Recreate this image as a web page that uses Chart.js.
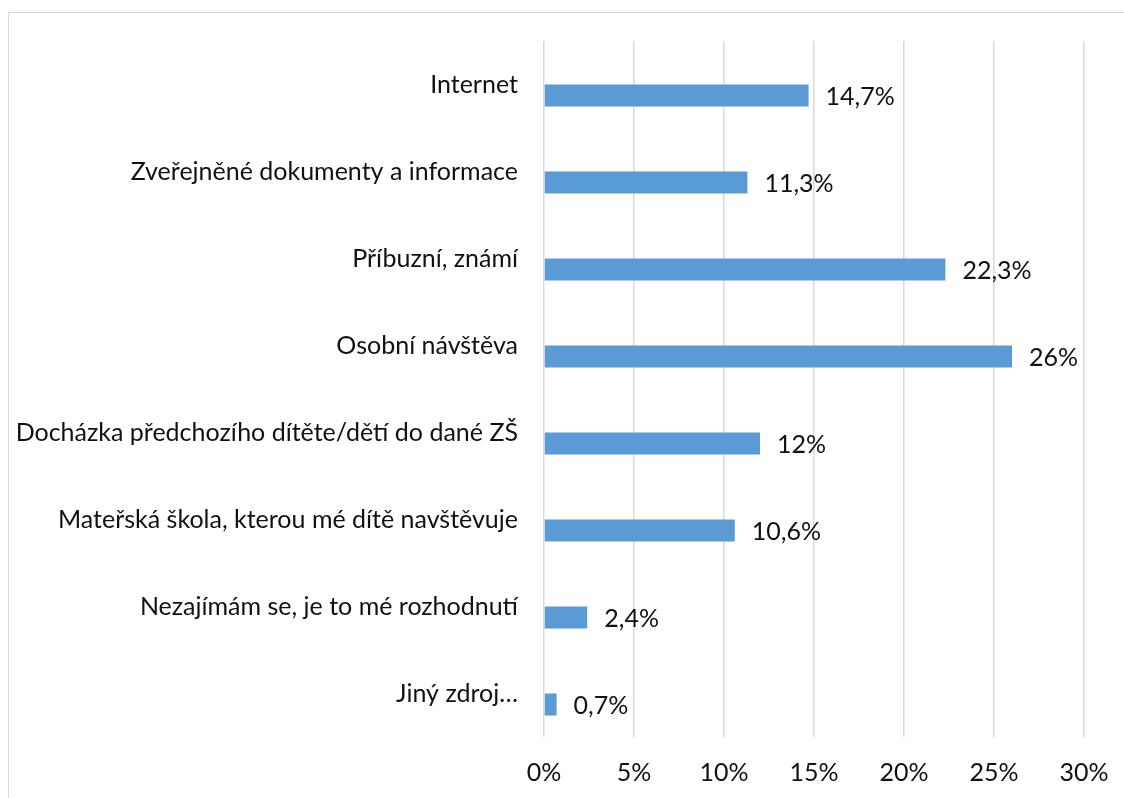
<!DOCTYPE html>
<html>
<head>
<meta charset="utf-8">
<script src="https://cdn.jsdelivr.net/npm/chart.js@4.4.1/dist/chart.umd.min.js"></script>
<style>
  body { margin: 0; background: #fff; }
  #frame { position: absolute; left: 8px; top: 12px; width: 1200px; height: 900px; border-left: 1px solid #d9d9d9; border-top: 1px solid #d9d9d9; }
  #myChart { position: absolute; left: 0; top: 0; }
</style>
</head>
<body>
<div id="frame"></div>
<canvas id="myChart" width="1124" height="798"></canvas>
<script>
const categories = [
  'Internet',
  'Zveřejněné dokumenty a informace',
  'Příbuzní, známí',
  'Osobní návštěva',
  'Docházka předchozího dítěte/dětí do dané ZŠ',
  'Mateřská škola, kterou mé dítě navštěvuje',
  'Nezajímám se, je to mé rozhodnutí',
  'Jiný zdroj…'
];
const values = [14.7, 11.3, 22.3, 26, 12, 10.6, 2.4, 0.7];
const emptyValues = [null, null, null, null, null, null, null, null];
const xTicks = [0, 5, 10, 15, 20, 25, 30];

const fontName = 'Lato';
const fontSize = 25;

function fmt(v){
  return String(v).replace('.', ',') + '%';
}

// popisky hodnot vedle sloupcu
const valueLabels = {
  id: 'valueLabels',
  afterDatasetsDraw: function(chart){
    var ctx = chart.ctx;
    var meta = chart.getDatasetMeta(1);
    ctx.save();
    ctx.font = fontSize + 'px ' + fontName;
    ctx.fillStyle = '#111';
    ctx.textAlign = 'left';
    ctx.textBaseline = 'middle';
    meta.data.forEach(function(bar, i){
      ctx.fillText(fmt(values[i]), bar.x + 17, bar.y + 1);
    });
    ctx.restore();
  }
};

const data = {
  labels: categories,
  datasets: [{
    label: 'prazdne',
    data: emptyValues,
    backgroundColor: 'rgba(0,0,0,0)'
  }, {
    label: 'Zdroj',
    data: values,
    backgroundColor: '#5b9bd5',
    borderWidth: 0
  }]
};

const config = {
  type: 'bar',
  data: data,
  options: {
    indexAxis: 'y',
    responsive: false,
    animation: false,
    datasets: {
      bar: {
        categoryPercentage: 0.506,
        barPercentage: 1
      }
    },
    layout: {
      padding: { left: 0, top: 41, right: 40, bottom: 0 }
    },
    plugins: {
      legend: { display: false },
      tooltip: { enabled: false }
    },
    scales: {
      x: {
        min: 0,
        max: 30,
        afterBuildTicks: function(scale){
          scale.ticks = xTicks.map(function(v){ return { value: v }; });
        },
        afterFit: function(scale){
          scale.height = 61;
          scale.paddingLeft = 0;
          scale.paddingRight = 0;
        },
        grid: { color: '#d9d9d9', lineWidth: 1.5, drawTicks: false },
        border: { display: false },
        ticks: {
          padding: 21,
          color: '#111',
          font: { family: fontName, size: fontSize },
          callback: function(v){ return v + '%'; }
        }
      },
      y: {
        afterFit: function(scale){
          scale.width = 544;
        },
        grid: { display: false, drawTicks: false },
        border: { display: false },
        ticks: {
          padding: 26,
          color: '#111',
          font: { family: fontName, size: fontSize }
        }
      }
    }
  },
  plugins: [valueLabels]
};

var myChart = new Chart(document.getElementById('myChart'), config);
</script>
</body>
</html>
